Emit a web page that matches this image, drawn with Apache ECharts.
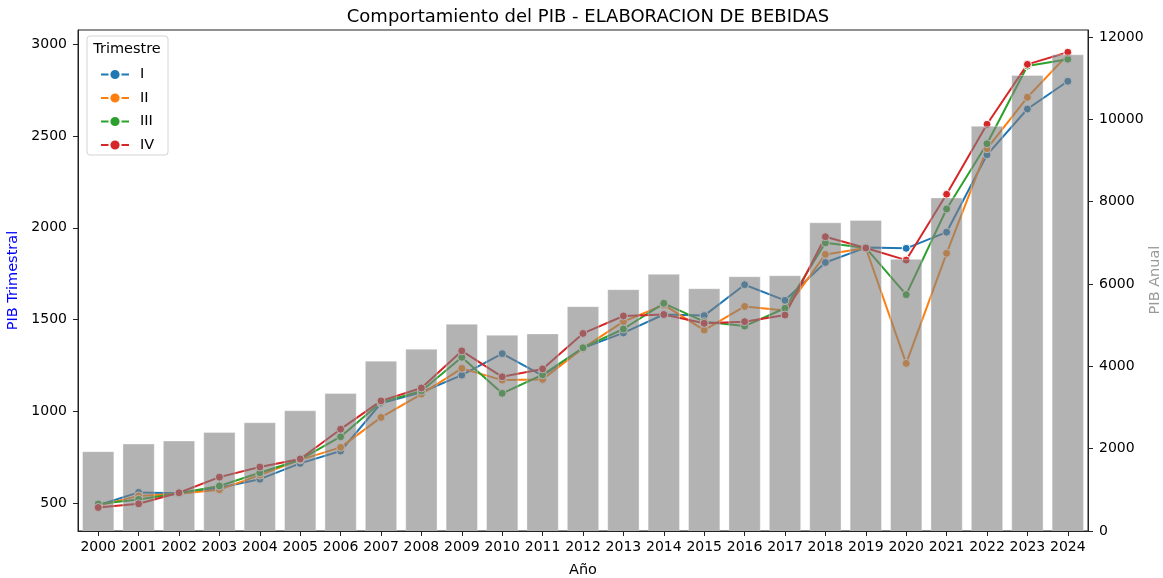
<!DOCTYPE html>
<html>
<head>
<meta charset="utf-8">
<script src="https://cdn.jsdelivr.net/npm/echarts@6/dist/echarts.min.js"></script>
<style>html,body{margin:0;padding:0;background:#fff;}#c{width:1163px;height:578px;}</style>
</head>
<body>
<div id="c"></div>
<script>
const years = ['2000','2001','2002','2003','2004','2005','2006','2007','2008','2009','2010','2011','2012','2013','2014','2015','2016','2017','2018','2019','2020','2021','2022','2023','2024'];
const trimI   = [490, 560, 555, 585, 632, 718, 785, 1045, 1105, 1198, 1315, 1195, 1345, 1428, 1528, 1522, 1690, 1605, 1811, 1892, 1888, 1976, 2397, 2646, 2797];
const trimII  = [488, 541, 553, 575, 654, 737, 805, 968, 1095, 1235, 1171, 1175, 1345, 1489, 1580, 1443, 1572, 1550, 1855, 1890, 1262, 1861, 2430, 2710, 2942];
const trimIII = [497, 522, 555, 595, 667, 738, 863, 1050, 1112, 1295, 1099, 1200, 1347, 1449, 1589, 1489, 1465, 1562, 1918, 1890, 1636, 2102, 2457, 2880, 2917];
const trimIV  = [478, 498, 558, 643, 698, 742, 904, 1058, 1128, 1330, 1189, 1232, 1425, 1520, 1528, 1480, 1489, 1525, 1951, 1890, 1824, 2182, 2563, 2889, 2955];
const anual   = [1939, 2126, 2199, 2407, 2642, 2933, 3353, 4138, 4429, 5035, 4768, 4800, 5462, 5874, 6247, 5898, 6189, 6213, 7498, 7556, 6611, 8104, 9842, 11079, 11580];
const leftTicks = [500, 1000, 1500, 2000, 2500, 3000];
const rightTicks = [0, 2000, 4000, 6000, 8000, 10000, 12000];
const seriesNames = ['I', 'II', 'III', 'IV'];
const seriesColors = ['#1f77b4', '#ff7f0e', '#2ca02c', '#d62728'];

const font = 'DejaVu Sans';
const tickSize = 14;
const labelSize = 14.5;
const chart = echarts.init(document.getElementById('c'), null, {renderer: 'canvas'});
const quarters = [trimI, trimII, trimIII, trimIV];

const lineSeries = quarters.map((d, i) => ({
  name: seriesNames[i],
  type: 'line',
  yAxisIndex: 0,
  data: d,
  z: 2,
  symbol: 'circle',
  symbolSize: 8,
  showSymbol: true,
  color: seriesColors[i],
  lineStyle: {width: 2, color: seriesColors[i]},
  itemStyle: {color: seriesColors[i], borderColor: '#fff', borderWidth: 1},
  emphasis: {disabled: true},
  animation: false
}));

const option = {
  animation: false,
  backgroundColor: '#fff',
  textStyle: {fontFamily: font},
  title: {
    text: 'Comportamiento del PIB - ELABORACION DE BEBIDAS',
    left: 583, top: 3, textAlign: 'center',
    textStyle: {fontFamily: font, fontSize: 18, fontWeight: 'normal', color: '#000'}
  },
  grid: {left: 78, right: 75, top: 30, bottom: 47, containLabel: false, outerBoundsMode: 'none', show: true, borderColor: '#222', borderWidth: 1, backgroundColor: 'transparent'},
  legend: {
    orient: 'vertical', left: 95, top: 62,
    itemWidth: 28, itemHeight: 14, itemGap: 8.5,
    data: seriesNames,
    textStyle: {fontFamily: font, fontSize: labelSize, color: '#000', padding: [0, 0, 0, 6]},
    z: 6
  },
  graphic: [
    {type: 'rect', shape: {x: 87, y: 36, width: 81, height: 119, r: 3}, style: {fill: 'rgba(255,255,255,0.8)', stroke: '#d4d4d4', lineWidth: 1}, z: 5},
    {type: 'text', x: 127, y: 49, style: {text: 'Trimestre', font: labelSize + 'px "DejaVu Sans"', fill: '#000', textAlign: 'center', textVerticalAlign: 'middle'}, z: 6},
    {type: 'text', x: 1155, y: 280, rotation: Math.PI / 2, style: {text: 'PIB Anual', font: labelSize + 'px "DejaVu Sans"', fill: '#999999', textAlign: 'center', textVerticalAlign: 'middle'}, z: 6}
  ],
  xAxis: {
    type: 'category', data: years, boundaryGap: true,
    name: 'Año', nameLocation: 'middle', nameGap: 32,
    nameTextStyle: {fontFamily: font, fontSize: labelSize, color: '#000'},
    axisLine: {show: true, lineStyle: {color: '#222', width: 1}},
    axisTick: {show: true, alignWithLabel: true, length: 5, lineStyle: {color: '#222'}},
    axisLabel: {interval: 0, margin: 9, fontFamily: font, fontSize: tickSize, color: '#000'},
    splitLine: {show: false}
  },
  yAxis: [
    {
      type: 'value', position: 'left', min: 350, max: 3076,
      name: 'PIB Trimestral', nameLocation: 'middle', nameGap: 57, nameRotate: 90,
      nameTextStyle: {fontFamily: font, fontSize: labelSize, color: '#0000ff'},
      axisLine: {show: true, lineStyle: {color: '#222', width: 1}},
      axisTick: {show: true, length: 5, customValues: leftTicks, lineStyle: {color: '#222'}},
      axisLabel: {margin: 11, customValues: leftTicks, formatter: v => String(v), fontFamily: font, fontSize: tickSize, color: '#000'},
      splitLine: {show: false}
    },
    {
      type: 'value', position: 'right', min: 0, max: 12170,
      axisLine: {show: true, lineStyle: {color: '#222', width: 1}},
      axisTick: {show: true, length: 5, customValues: rightTicks, lineStyle: {color: '#222'}},
      axisLabel: {margin: 11, customValues: rightTicks, formatter: v => String(v), fontFamily: font, fontSize: tickSize, color: '#000'},
      splitLine: {show: false}
    }
  ],
  series: lineSeries.concat([{
    name: 'PIB Anual',
    type: 'bar',
    yAxisIndex: 1,
    data: anual,
    barWidth: '80%',
    z: 3,
    itemStyle: {color: 'rgba(128,128,128,0.6)', borderColor: 'rgba(255,255,255,0.35)', borderWidth: 1},
    emphasis: {disabled: true},
    animation: false
  }])
};
chart.setOption(option);
</script>
</body>
</html>
